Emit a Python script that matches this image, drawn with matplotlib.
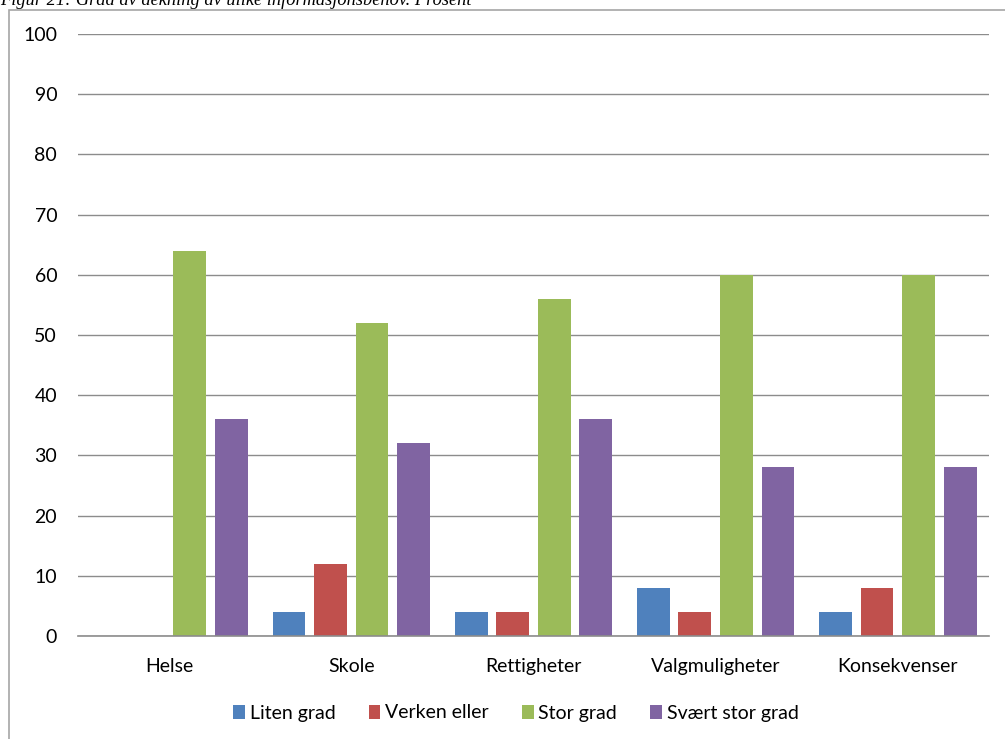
import matplotlib
matplotlib.use("Agg")
import matplotlib.pyplot as plt
import numpy as np
from matplotlib.patches import Rectangle

categories = ["Helse", "Skole", "Rettigheter", "Valgmuligheter", "Konsekvenser"]
series_names = ["Liten grad", "Verken eller", "Stor grad", "Svært stor grad"]
liten = [0, 4, 4, 8, 4]
verken = [0, 12, 4, 4, 8]
stor = [64, 52, 56, 60, 60]
svaert = [36, 32, 36, 28, 28]
yticks = list(range(0, 101, 10))

colors = ["#4F81BD", "#C0504D", "#9BBB59", "#8064A2"]

plt.rcParams['font.family'] = ['Lato', 'DejaVu Sans']

fig = plt.figure(figsize=(10.05, 7.39), dpi=100)
ax = fig.add_axes([0.0776, 0.1394, 0.9064, 0.8146])

# outer chart frame (cut off at right and bottom)
fig.patches.append(Rectangle((9 / 1005, -0.1), 1.2, 1 - 10 / 739 + 0.1,
                             transform=fig.transFigure, fill=False,
                             edgecolor="#A6A6A6", linewidth=1.2))

x = np.arange(len(categories))
step = 0.228
width = 0.18
for i, (vals, name) in enumerate(zip([liten, verken, stor, svaert], series_names)):
    ax.bar(x + (i - 1.5) * step, vals, width, color=colors[i], label=name, zorder=3)

ax.set_xlim(-0.5, len(categories) - 0.5)
ax.set_ylim(0, 100)
ax.set_yticks(yticks)
ax.set_xticks(x)
ax.set_xticklabels(categories)
ax.yaxis.grid(True, color="#8C8C8C", linewidth=1.0, zorder=0)
for s in ["top", "right", "left"]:
    ax.spines[s].set_visible(False)
ax.spines["bottom"].set_color("#8C8C8C")
ax.spines["bottom"].set_linewidth(1.2)
ax.spines["bottom"].set_zorder(4)
ax.tick_params(axis="both", length=0, labelsize=14, colors="black")
ax.tick_params(axis="y", pad=15)
ax.tick_params(axis="x", pad=16)

fig.legend(loc="center", bbox_to_anchor=(516 / 1005, 1 - 713 / 739), ncol=4,
           frameon=False, fontsize=14, handlelength=0.6, handleheight=0.75,
           handletextpad=0.25, columnspacing=1.7)

fig.text(0.0, 1 - 5 / 739, "Figur 21: Grad av dekning av ulike informasjonsbehov. Prosent",
         family="Liberation Serif", style="italic", fontsize=13.2, va="baseline", ha="left")

fig.savefig("out.png", dpi=100)
